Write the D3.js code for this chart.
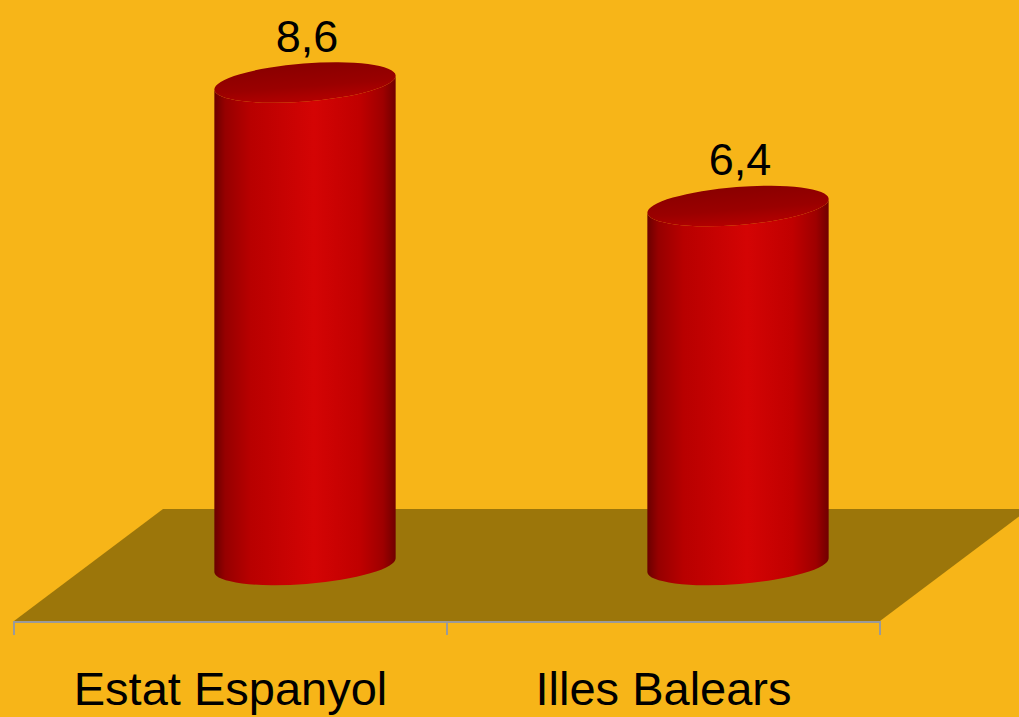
<!DOCTYPE html>
<html>
<head>
<meta charset="utf-8">
<script src="https://cdn.jsdelivr.net/npm/d3@7"></script>
<style>
  body { margin: 0; background: #F7B518; }
  svg { display: block; }
  text { font-family: "Liberation Sans", Arial, sans-serif; fill: #000; }
</style>
</head>
<body>
<div id="chart"></div>
<script>
var w = 1019, h = 717; // size of the picture

// data
var categories = ["Estat Espanyol", "Illes Balears"];
var values = [8.6, 6.4];
var valueLabels = ["8,6", "6,4"];

// 3d look: how far the back of the floor is shifted
var depthX = 149, depthY = -112;
var floorY = 621;            // front edge of the floor
var cylW = 0.42;             // cylinder width as part of the band
var ry = 19, tilt = -4.5;    // ellipse of the cylinder caps

var svg = d3.select("#chart")
    .append("svg")
    .attr("width", w)
    .attr("height", h);

var x = d3.scaleBand()
    .domain(categories)
    .range([14, 880])
    .paddingInner(0)
    .paddingOuter(0);

// value 0 sits half way into the floor
var y = d3.scaleLinear()
    .domain([0, 10])
    .range([floorY + depthY / 2, 4]);

var defs = svg.append("defs");

var body = defs.append("linearGradient")
    .attr("id", "body")
    .attr("x1", 0).attr("x2", 1).attr("y1", 0).attr("y2", 0);
[[0, "#6a0000"], [0.06, "#960000"], [0.2, "#b80000"], [0.55, "#d40404"],
 [0.8, "#c00000"], [0.93, "#9e0000"], [1, "#700000"]].forEach(function(s) {
  body.append("stop").attr("offset", s[0]).attr("stop-color", s[1]);
});

var cap = defs.append("linearGradient")
    .attr("id", "cap")
    .attr("x1", 0).attr("x2", 0).attr("y1", 0).attr("y2", 1);
[[0, "#8a0000"], [0.6, "#9a0000"], [1, "#b30000"]].forEach(function(s) {
  cap.append("stop").attr("offset", s[0]).attr("stop-color", s[1]);
});

// floor
var x0 = x.range()[0], x1 = x.range()[1];
svg.append("path")
    .attr("d", "M" + x0 + "," + floorY +
               "L" + x1 + "," + floorY +
               "L" + (x1 + depthX) + "," + (floorY + depthY) +
               "L" + (x0 + depthX) + "," + (floorY + depthY) + "Z")
    .attr("fill", "#9C760A");

// category axis
svg.append("line")
    .attr("x1", x0).attr("x2", x1)
    .attr("y1", floorY + 1).attr("y2", floorY + 1)
    .attr("stroke", "#9a9a9a").attr("stroke-width", 2);

var ticks = categories.map(function(d) { return x(d); }).concat([x1]);
svg.selectAll("line.tick")
    .data(ticks)
    .enter()
    .append("line")
    .attr("class", "tick")
    .attr("x1", function(d) { return d; })
    .attr("x2", function(d) { return d; })
    .attr("y1", floorY)
    .attr("y2", floorY + 14)
    .attr("stroke", "#9a9a9a").attr("stroke-width", 2);

svg.selectAll("text.cat")
    .data(categories)
    .enter()
    .append("text")
    .attr("class", "cat")
    .attr("x", function(d) { return x(d) + x.bandwidth() / 2; })
    .attr("y", 705)
    .attr("text-anchor", "middle")
    .attr("font-size", 47)
    .text(function(d) { return d; });

// cylinders
var rad = tilt * Math.PI / 180;
var rx = x.bandwidth() * cylW / 2;
var dx = rx * Math.cos(rad), dy = rx * Math.sin(rad);

var bars = values.map(function(v, i) {
  return {
    cx: x(categories[i]) + x.bandwidth() / 2 + depthX / 2,
    top: y(v),
    bottom: y(0),
    label: valueLabels[i]
  };
});

var g = svg.selectAll("g.bar")
    .data(bars)
    .enter()
    .append("g")
    .attr("class", "bar");

g.append("path")
    .attr("fill", "url(#body)")
    .attr("d", function(d) {
      var arc = " " + rx + " " + ry + " " + tilt + " 0 ";
      return "M" + (d.cx - dx) + "," + (d.top - dy) +
             "L" + (d.cx - dx) + "," + (d.bottom - dy) +
             "A" + arc + "0 " + (d.cx + dx) + "," + (d.bottom + dy) +
             "L" + (d.cx + dx) + "," + (d.top + dy) +
             "A" + arc + "1 " + (d.cx - dx) + "," + (d.top - dy) + "Z";
    });

g.append("ellipse")
    .attr("cx", function(d) { return d.cx; })
    .attr("cy", function(d) { return d.top; })
    .attr("rx", rx)
    .attr("ry", ry)
    .attr("transform", function(d) { return "rotate(" + tilt + " " + d.cx + " " + d.top + ")"; })
    .attr("fill", "url(#cap)");

g.append("text")
    .attr("x", function(d) { return d.cx + 2; })
    .attr("y", function(d) { return d.top - 31; })
    .attr("text-anchor", "middle")
    .attr("font-size", 45)
    .text(function(d) { return d.label; });
</script>
</body>
</html>
